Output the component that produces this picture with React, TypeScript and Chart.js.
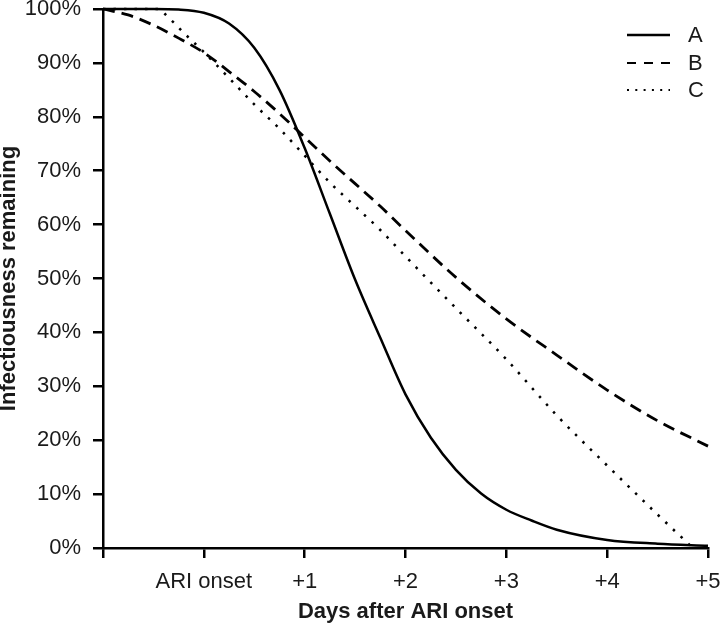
import React, { useEffect, useRef } from "react";
import { Chart, registerables } from "chart.js";

Chart.register(...registerables);

const xTickValues = [-1, 0, 1, 2, 3, 4, 5];
const xTickLabels = ["", "ARI onset", "+1", "+2", "+3", "+4", "+5"];
const yTickValues = [0, 10, 20, 30, 40, 50, 60, 70, 80, 90, 100];
const seriesNames = ["A", "B", "C"];

const daysA = [-1, -0.5, -0.25, 0, 0.25, 0.5, 0.75, 1.0, 1.25, 1.5, 1.75, 2.0, 2.25, 2.5, 2.75, 3.0, 3.25, 3.5, 4.0, 4.5, 5.0];
const valuesA = [100, 100, 99.9, 99.3, 97.3, 92.8, 85.0, 74.2, 62.0, 49.8, 39.0, 28.5, 20.5, 14.5, 10.1, 7.1, 5.1, 3.4, 1.5, 0.8, 0.4];

const daysB = [-1, -0.75, -0.5, -0.25, 0, 0.25, 0.5, 0.75, 1.0, 1.25, 1.5, 1.75, 2.0, 2.5, 3.0, 3.5, 4.0, 4.5, 5.0];
const valuesB = [100, 98.9, 97.0, 94.6, 91.9, 88.4, 84.7, 80.6, 76.2, 71.8, 67.6, 63.4, 58.9, 50.2, 42.5, 35.8, 29.3, 23.6, 18.9];

const daysC = [-1, -0.45, -0.4, -0.3, -0.2, 0, 0.25, 0.5, 0.75, 1.0, 1.25, 1.5, 1.75, 2.0, 2.5, 3.0, 3.5, 4.0, 4.5, 4.85];
const valuesC = [100, 100, 99.3, 97.5, 95.6, 92.0, 87.2, 82.3, 77.8, 72.8, 67.8, 63.4, 59.0, 54.1, 44.5, 35.0, 24.6, 15.3, 6.2, 0];

const FONT = 'Arial, "Liberation Sans", Helvetica, sans-serif';
const TEXT = "#1a1a1a";

const lineDashes = [[], [12, 7], [2.5, 8]];
const legendDashes = [[], [9, 8], [2, 6.3]];
const lineWidths = [2.5, 2.8, 2.5];

const toPoints = (xs: number[], ys: number[]) => xs.map((x, i) => ({ x, y: ys[i] }));

const legendPlugin = {
  id: "customLegend",
  afterDraw(chart: any) {
    const ctx = chart.ctx;
    const area = chart.chartArea;
    const x0 = area.right - 81;
    const x1 = area.right - 38;
    const tx = area.right - 20;
    const rows = [area.top + 26, area.top + 54, area.top + 81];
    chart.data.datasets.forEach((ds: any, i: number) => {
      ctx.save();
      ctx.strokeStyle = "#000";
      ctx.lineWidth = i === 0 ? 2.5 : 2.2;
      ctx.setLineDash(legendDashes[i]);
      ctx.beginPath();
      ctx.moveTo(x0, rows[i]);
      ctx.lineTo(x1, rows[i]);
      ctx.stroke();
      ctx.setLineDash([]);
      ctx.fillStyle = TEXT;
      ctx.font = `22px ${FONT}`;
      ctx.textBaseline = "middle";
      ctx.textAlign = "left";
      ctx.fillText(ds.label, tx, rows[i] + 1);
      ctx.restore();
    });
  },
};

export default function App() {
  const canvasRef = useRef<HTMLCanvasElement | null>(null);

  useEffect(() => {
    const canvas = canvasRef.current;
    if (!canvas) return;
    const allDays = [daysA, daysB, daysC];
    const allValues = [valuesA, valuesB, valuesC];
    const chart = new Chart(canvas, {
      type: "line",
      data: {
        datasets: seriesNames.map((name, i) => ({
          label: name,
          data: toPoints(allDays[i], allValues[i]),
          borderColor: "#000",
          borderWidth: lineWidths[i],
          borderDash: lineDashes[i],
          pointRadius: 0,
          fill: false,
          cubicInterpolationMode: "monotone",
          clip: false,
        })) as any,
      },
      options: {
        responsive: false,
        animation: false,
        layout: { padding: { top: 9, right: 12, left: 0, bottom: 0 } },
        plugins: {
          legend: { display: false },
          tooltip: { enabled: false },
          title: { display: false },
        },
        scales: {
          x: {
            type: "linear",
            min: -1,
            max: 5,
            afterBuildTicks: (scale: any) => {
              scale.ticks = xTickValues.map((v) => ({ value: v }));
            },
            afterFit: (scale: any) => {
              scale.height = 77;
              scale.paddingLeft = 0;
              scale.paddingRight = 0;
            },
            ticks: {
              autoSkip: false,
              maxRotation: 0,
              minRotation: 0,
              padding: 11,
              color: TEXT,
              font: { family: FONT, size: 22, lineHeight: 1.2 },
              callback: (v: any) => {
                const idx = xTickValues.indexOf(Number(v));
                return idx >= 0 ? xTickLabels[idx] : "";
              },
            },
            grid: {
              drawOnChartArea: false,
              drawTicks: true,
              tickLength: 10,
              color: "#000",
              lineWidth: 2.5,
            },
            border: { display: true, color: "#000", width: 2.5 },
            title: {
              display: true,
              text: "Days after ARI onset",
              color: TEXT,
              font: { family: FONT, size: 22, weight: "bold", lineHeight: 1.2 },
              padding: { top: 0, bottom: 0 },
            },
          },
          y: {
            type: "linear",
            min: 0,
            max: 100,
            afterBuildTicks: (scale: any) => {
              scale.ticks = yTickValues.map((v) => ({ value: v }));
            },
            afterFit: (scale: any) => {
              scale.width = 103;
              scale.paddingTop = 0;
              scale.paddingBottom = 0;
            },
            ticks: {
              padding: 12,
              color: TEXT,
              font: { family: FONT, size: 22, lineHeight: 0.8 },
              callback: (v: any) => `${v}%`,
            },
            grid: {
              drawOnChartArea: false,
              drawTicks: true,
              tickLength: 10,
              color: "#000",
              lineWidth: 2.5,
            },
            border: { display: true, color: "#000", width: 2.5 },
            title: {
              display: true,
              text: "Infectiousness remaining",
              color: TEXT,
              font: { family: FONT, size: 22, weight: "bold", lineHeight: 0.85 },
              padding: { top: 0, bottom: 0 },
            },
          },
        },
      } as any,
      plugins: [legendPlugin],
    });
    return () => chart.destroy();
  }, []);

  return (
    <div style={{ position: "absolute", left: 0, top: 0, width: 720, height: 625, background: "#fff" }}>
      <canvas ref={canvasRef} width={720} height={625} style={{ display: "block", width: 720, height: 625 }} />
    </div>
  );
}
